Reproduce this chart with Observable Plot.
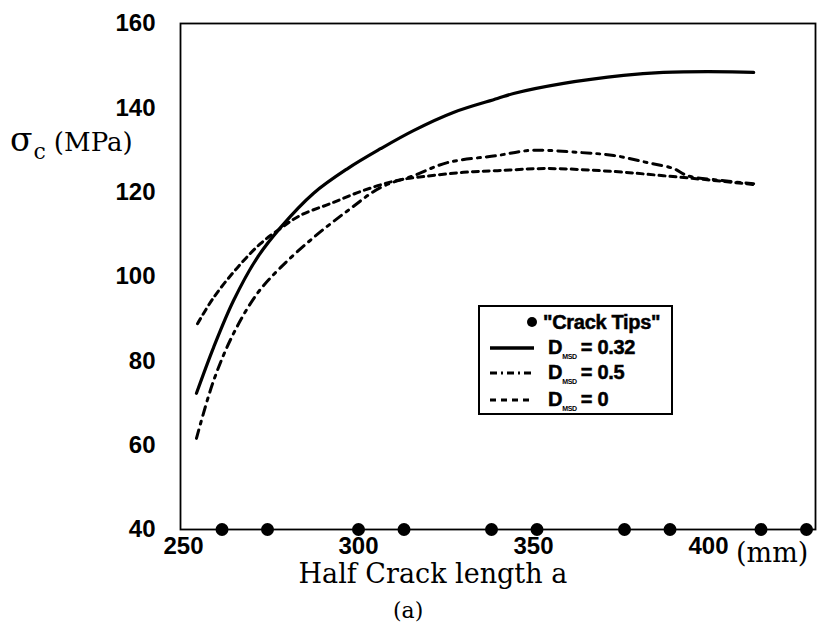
<!DOCTYPE html>
<html>
<head>
<meta charset="utf-8">
<script src="https://cdn.jsdelivr.net/npm/d3@7"></script>
<script src="https://cdn.jsdelivr.net/npm/@observablehq/plot@0.6"></script>
<style>
  html, body { margin: 0; padding: 0; background: #fff; }
  #wrap { position: relative; width: 819px; height: 642px; overflow: hidden; }
  .serif { position: absolute; font-family: "DejaVu Serif", serif; color: #000; white-space: nowrap; line-height: 1; }
  #legend { position: absolute; left: 478px; top: 305px; width: 191px; height: 106px; border: 2px solid #000; background: #fff;
            font-family: "Liberation Sans", Arial, sans-serif; font-weight: bold; font-size: 20px; letter-spacing: -0.3px;
            -webkit-text-stroke: 0.5px #000; }
  .row { position: absolute; left: 0; height: 22px; display: flex; align-items: center; }
  .row svg { display: block; }
  sub.msd { font-size: 7px; vertical-align: -5px; margin-right: 4px; -webkit-text-stroke: 0; }
</style>
</head>
<body>
<div id="wrap"></div>
<script>
// --- data ---
const xTicks = [250, 300, 350, 400];
const yTicks = [40, 60, 80, 100, 120, 140, 160];

const xSolid = [253.7, 258.6, 264.3, 271.1, 277.7, 287.1, 296.9, 306.3, 315.7, 327.1, 339.7, 344.3, 358.6, 375.7, 387.1, 399.7, 412.9];
const ySolid = [72.3, 83.2, 94.3, 104.5, 111.6, 119.7, 125.6, 130.3, 134.6, 138.9, 142.2, 143.4, 145.8, 147.7, 148.4, 148.6, 148.4];

const xHalf = [253.7, 258.6, 264.3, 271.1, 277.7, 287.1, 296.9, 306.3, 315.7, 325.4, 339.7, 349.1, 363.4, 372.9, 382.6, 390.0, 394.0, 403.4, 412.9];
const yHalf = [61.6, 75.3, 86.5, 96.0, 102.1, 109.2, 115.6, 121.1, 123.9, 127.0, 128.7, 129.9, 129.4, 128.7, 127.0, 125.6, 123.9, 122.8, 122.0];

const xZero = [254.0, 258.6, 265.4, 272.0, 277.7, 283.4, 292.0, 301.4, 311.1, 320.6, 330.0, 339.7, 354.0, 372.9, 387.1, 401.4, 412.9];
const yZero = [88.8, 95.0, 102.1, 107.8, 111.4, 114.5, 117.3, 120.4, 122.8, 123.9, 124.7, 125.1, 125.6, 124.9, 123.9, 122.8, 121.8];

const tipsX = [261, 274, 300, 313, 338, 351, 376, 389, 415, 428];
const tipsY = 40;

const toRows = (xs, ys) => xs.map((x, i) => ({x, y: ys[i]}));
const solid = toRows(xSolid, ySolid);
const half = toRows(xHalf, yHalf);
const zero = toRows(xZero, yZero);
const tips = tipsX.map(x => ({x, y: tipsY}));

const tickFont = {fontFamily: "Liberation Sans, Arial, sans-serif", fontWeight: "bold", fontSize: 24, stroke: "#000", strokeWidth: 0.7, fill: "#000"};

const chart = Plot.plot({
  width: 819,
  height: 642,
  marginLeft: 180,
  marginRight: 4,
  marginTop: 23,
  marginBottom: 113,
  x: {domain: [249.14, 430.57]},
  y: {domain: [40, 160]},
  style: {background: "#fff", color: "#000", overflow: "visible"},
  marks: [
    Plot.frame({stroke: "#000", strokeWidth: 1.8}),
    Plot.axisY(yTicks, {tickSize: 0, tickPadding: 25, label: null, ...tickFont}),
    Plot.axisX(xTicks, {tickSize: 0, tickPadding: 7, label: null, ...tickFont}),
    Plot.line(solid, {x: "x", y: "y", stroke: "#000", strokeWidth: 3.2, curve: "catmull-rom"}),
    Plot.line(half, {x: "x", y: "y", stroke: "#000", strokeWidth: 3, strokeDasharray: "9,6,3,6", curve: "catmull-rom"}),
    Plot.line(zero, {x: "x", y: "y", stroke: "#000", strokeWidth: 3, strokeDasharray: "6,5", curve: "catmull-rom"}),
    Plot.dot(tips, {x: "x", y: "y", r: 6.5, fill: "#000", stroke: null, clip: false})
  ]
});

const wrap = document.getElementById("wrap");
wrap.appendChild(chart);

function addText(html, left, top, size) {
  const d = document.createElement("div");
  d.className = "serif";
  d.style.left = left + "px";
  d.style.top = top + "px";
  d.style.fontSize = size + "px";
  d.innerHTML = html;
  wrap.appendChild(d);
  return d;
}
addText('σ<span style="font-size:22px;position:relative;top:8px;margin-left:1px">c</span><span style="font-size:26px;margin-left:8px">(MPa)</span>', 10, 123, 33);
addText('(mm)', 736, 539, 27);
const t1 = addText('Half Crack length a', 0, 560, 27);
t1.style.left = (433 - t1.offsetWidth / 2) + "px";
const t2 = addText('(a)', 0, 600, 22);
t2.style.left = (408 - t2.offsetWidth / 2) + "px";

// legend
const legend = document.createElement("div");
legend.id = "legend";
function sample(dash, strokeW) {
  return `<svg width="48" height="10"><line x1="2" y1="5" x2="46" y2="5" stroke="#000" stroke-width="${strokeW}" ${dash ? `stroke-dasharray="${dash}"` : ""}/></svg>`;
}
legend.innerHTML = `
  <div class="row" style="top:4px;left:45px"><svg width="14" height="14"><circle cx="7" cy="7" r="5" fill="#000"/></svg><span style="margin-left:4px">"Crack Tips"</span></div>
  <div class="row" style="top:30px;left:8px">${sample(null, 3.5)}<span style="margin-left:12px">D<sub class="msd">MSD</sub>= 0.32</span></div>
  <div class="row" style="top:55px;left:8px">${sample("7,4,2,4", 3)}<span style="margin-left:12px">D<sub class="msd">MSD</sub>= 0.5</span></div>
  <div class="row" style="top:82px;left:8px">${sample("6,5", 3)}<span style="margin-left:12px">D<sub class="msd">MSD</sub>= 0</span></div>
`;
wrap.appendChild(legend);
</script>
</body>
</html>
